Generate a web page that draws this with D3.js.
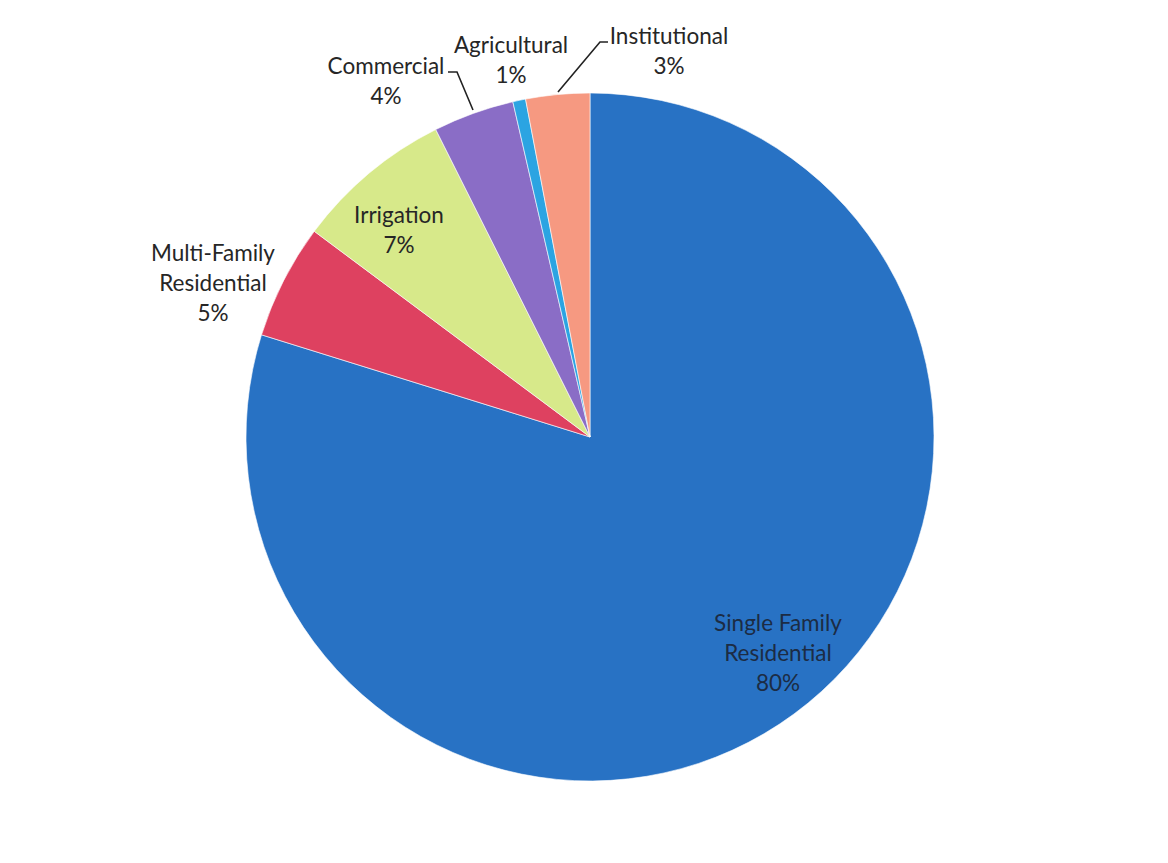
<!DOCTYPE html>
<html>
<head>
<meta charset="utf-8">
<script src="https://cdn.jsdelivr.net/npm/d3@7/dist/d3.min.js"></script>
<style>
  html, body { margin: 0; padding: 0; background: #ffffff; }
  svg { display: block; }
  text { font-family: Lato, "Open Sans", sans-serif; }
</style>
</head>
<body>
<svg id="chart" width="1168" height="863"></svg>
<script>
// ---- data ----
const categories = ["Single Family Residential", "Multi-Family Residential", "Irrigation", "Commercial", "Agricultural", "Institutional"];
const labelLines = [["Single Family", "Residential"], ["Multi-Family", "Residential"], ["Irrigation"], ["Commercial"], ["Agricultural"], ["Institutional"]];
const values = [79.8, 5.4, 7.4, 3.8, 0.6, 3.0];
const colors = ["#2872c4", "#de4160", "#d7e98a", "#8a6dc6", "#2ba4e2", "#f69981"];

// ---- layout (not data) ----
const W = 1168, H = 863;
const cx = 590, cy = 437, R = 344;
// label anchor positions (centre of first line), relative to pie centre
const labelPos = [
  { dx: 188, dy: 186 },   // SFR
  { dx: -377, dy: -184 }, // MF
  { dx: -191, dy: -222 }, // Irrigation
  { dx: -204, dy: -371 }, // Commercial
  { dx: -79,  dy: -392 }, // Agricultural
  { dx: 79,   dy: -401 }  // Institutional
];
const leaders = {
  3: [[-142, -365], [-133, -365], [-117, -327]],
  5: [[18, -395], [10, -395], [-32, -345]]
};
const lineH = 30;

const svg = d3.select("#chart");
svg.append("rect").attr("width", W).attr("height", H).attr("fill", "#ffffff");

const data = categories.map((c, i) => ({ name: c, value: values[i], i }));
const pie = d3.pie().sort(null).value(d => d.value);
const arc = d3.arc().innerRadius(0).outerRadius(R);

const g = svg.append("g").attr("transform", `translate(${cx},${cy})`);
g.selectAll("path.slice")
  .data(pie(data))
  .join("path")
  .attr("class", "slice")
  .attr("d", arc)
  .attr("fill", d => colors[d.data.i])
  .attr("stroke", "#ffffff")
  .attr("stroke-width", 0.6);

// leader lines
const line = d3.line();
Object.entries(leaders).forEach(([k, pts]) => {
  g.append("path").attr("d", line(pts)).attr("fill", "none")
    .attr("stroke", "#222").attr("stroke-width", 1.6);
});

// labels
const fmt = v => Math.round(v) + "%";
data.forEach((d, i) => {
  const p = labelPos[i];
  const lines = labelLines[i].concat([fmt(values[i])]);
  const t = g.append("text")
    .attr("text-anchor", "middle")
    .attr("font-size", 22.5)
    .attr("fill", i === 0 ? "#1c2c44" : "#262626");
  lines.forEach((ln, j) => {
    t.append("tspan")
      .attr("x", p.dx)
      .attr("y", p.dy + j * lineH)
      .attr("dy", "0.35em")
      .text(ln);
  });
});
</script>
</body>
</html>
